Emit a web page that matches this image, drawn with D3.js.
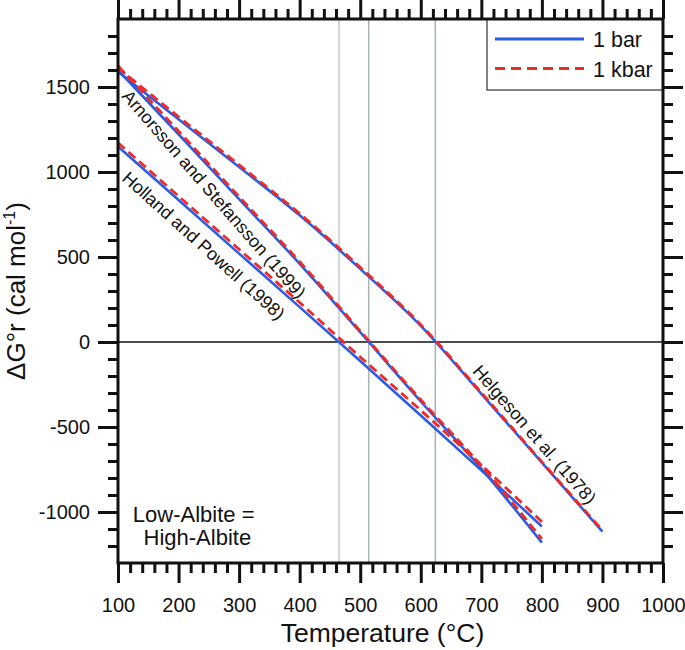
<!DOCTYPE html>
<html>
<head>
<meta charset="utf-8">
<script src="https://cdn.jsdelivr.net/npm/d3@7"></script>
<style>
  html, body { margin: 0; padding: 0; background: #fff; }
  svg { display: block; }
  text { font-family: "Liberation Sans", Arial, sans-serif; fill: #111; }
</style>
</head>
<body>
<svg id="chart" width="685" height="650"></svg>
<script>
// ---------- data ----------
const tempsAS = [100, 200, 300, 400, 500, 600, 700, 800];
const arnorsson1bar  = [1600, 1222, 840, 460, 58, -350, -745, -1180];
const arnorsson1kbar = [1625, 1240, 855, 472, 65, -340, -728, -1158];

const tempsHP = [100, 200, 300, 400, 500, 600, 700, 800];
const holland1bar  = [1150, 835, 520, 205, -112, -432, -755, -1085];
const holland1kbar = [1172, 858, 545, 232, -88, -402, -724, -1058];

const tempsHE = [100, 200, 300, 400, 500, 600, 700, 800, 900];
const helgeson1bar  = [1590, 1310, 1030, 745, 430, 95, -305, -710, -1115];
const helgeson1kbar = [1612, 1325, 1042, 755, 440, 102, -298, -705, -1108];

const zeroCrossings = [465, 514, 624];

const xTicks = [100, 200, 300, 400, 500, 600, 700, 800, 900, 1000];
const yTicks = [-1000, -500, 0, 500, 1000, 1500];
const legendLabels = ["1 bar", "1 kbar"];
const seriesColors = ["#2b5ce6", "#f02a2a"];

// ---------- layout ----------
const svg = d3.select("#chart");
const L = 118, R = 663, T = 19, B = 563;
const x = d3.scaleLinear().domain([100, 1000]).range([L, R]);
const y = d3.scaleLinear().domain([-1300, 1900]).range([B, T]);

const blue = seriesColors[0], red = seriesColors[1];

// vertical reference lines
svg.selectAll("line.ref").data(zeroCrossings).enter().append("line")
  .attr("x1", d => x(d)).attr("x2", d => x(d))
  .attr("y1", T).attr("y2", B)
  .attr("stroke", (d, i) => i === 0 ? "#c4c9c9" : "#a9b1b1")
  .attr("stroke-width", 1.5);

// zero line
svg.append("line")
  .attr("x1", L).attr("x2", R).attr("y1", y(0)).attr("y2", y(0))
  .attr("stroke", "#111").attr("stroke-width", 1.5);

const line = d3.line().x(d => x(d[0])).y(d => y(d[1])).curve(d3.curveMonotoneX);
const zip = (a, b) => a.map((t, i) => [t, b[i]]);

const blueSeries = [zip(tempsAS, arnorsson1bar), zip(tempsHP, holland1bar), zip(tempsHE, helgeson1bar)];
const redSeries  = [zip(tempsAS, arnorsson1kbar), zip(tempsHP, holland1kbar), zip(tempsHE, helgeson1kbar)];

svg.selectAll("path.blue").data(blueSeries).enter().append("path")
  .attr("d", line).attr("fill", "none").attr("stroke", blue).attr("stroke-width", 2.6);
svg.selectAll("path.red").data(redSeries).enter().append("path")
  .attr("d", line).attr("fill", "none").attr("stroke", red).attr("stroke-width", 2.8)
  .attr("stroke-dasharray", "9,5");

// curve labels
const labels = [
  {text: "Arnorsson and Stefansson (1999)", t: 105, g: 1443, rot: 49},
  {text: "Holland and Powell (1998)", t: 105, g: 955, rot: 42},
  {text: "Helgeson et al. (1978)", t: 684, g: -175, rot: 49}
];
svg.selectAll("text.lab").data(labels).enter().append("text")
  .attr("transform", d => `translate(${x(d.t)},${y(d.g)}) rotate(${d.rot})`)
  .attr("font-size", 18)
  .text(d => d.text);

// Low-Albite note
const note = svg.append("text").attr("font-size", 22).attr("text-anchor", "middle");
note.append("tspan").attr("x", x(225)).attr("y", y(-1060)).text("Low-Albite =");
note.append("tspan").attr("x", x(231)).attr("y", y(-1197)).text("High-Albite");

// legend
const lgX = x(1000) - 176, lgY = T, lgW = 176, lgH = 71;
svg.append("rect").attr("x", lgX).attr("y", lgY).attr("width", lgW).attr("height", lgH)
  .attr("fill", "#fff").attr("stroke", "#333").attr("stroke-width", 1.2);
legendLabels.forEach((lab, i) => {
  const ly = lgY + 20 + i * 29.5;
  svg.append("line").attr("x1", lgX + 8).attr("x2", lgX + 97).attr("y1", ly).attr("y2", ly)
    .attr("stroke", seriesColors[i]).attr("stroke-width", 2.8)
    .attr("stroke-dasharray", i === 1 ? "10,6" : null);
  svg.append("text").attr("x", lgX + 106).attr("y", ly + 8).attr("font-size", 21.5).text(lab);
});

// axes
function styleAxis(g) {
  g.select(".domain").remove();
  g.selectAll(".tick line").attr("stroke", "#111").attr("stroke-width", 3);
  g.selectAll(".tick text").attr("font-size", 20).attr("fill", "#111")
    .attr("font-family", "Liberation Sans, Arial, sans-serif");
}
const fmt = d => String(d);
const xMinor = d3.range(100, 1001, 20).filter(v => v % 100 !== 0);
const yMinor = d3.range(-1200, 1900, 100).filter(v => v % 500 !== 0);

svg.append("g").attr("transform", `translate(0,${B})`)
  .call(d3.axisBottom(x).tickValues(xTicks).tickSize(20).tickPadding(15).tickFormat(fmt)).call(styleAxis);
svg.append("g").attr("transform", `translate(0,${B})`)
  .call(d3.axisBottom(x).tickValues(xMinor).tickSize(10).tickFormat("")).call(styleAxis);
svg.append("g").attr("transform", `translate(0,${T})`)
  .call(d3.axisTop(x).tickValues(xTicks).tickSize(20).tickFormat("")).call(styleAxis);
svg.append("g").attr("transform", `translate(0,${T})`)
  .call(d3.axisTop(x).tickValues(xMinor).tickSize(10).tickFormat("")).call(styleAxis);

svg.append("g").attr("transform", `translate(${L},0)`)
  .call(d3.axisLeft(y).tickValues(yTicks).tickSize(20).tickPadding(8).tickFormat(fmt)).call(styleAxis);
svg.append("g").attr("transform", `translate(${L},0)`)
  .call(d3.axisLeft(y).tickValues(yMinor).tickSize(10).tickFormat("")).call(styleAxis);
svg.append("g").attr("transform", `translate(${R},0)`)
  .call(d3.axisRight(y).tickValues(yTicks).tickSize(20).tickFormat("")).call(styleAxis);
svg.append("g").attr("transform", `translate(${R},0)`)
  .call(d3.axisRight(y).tickValues(yMinor).tickSize(10).tickFormat("")).call(styleAxis);

// frame
svg.append("rect").attr("x", L).attr("y", T).attr("width", R - L).attr("height", B - T)
  .attr("fill", "none").attr("stroke", "#111").attr("stroke-width", 3);

// axis titles
svg.append("text").attr("x", (L + R) / 2 - 8).attr("y", 642)
  .attr("text-anchor", "middle").attr("font-size", 26.5).text("Temperature (°C)");

const yt = svg.append("text")
  .attr("transform", `translate(25,${(T + B) / 2}) rotate(-90)`)
  .attr("text-anchor", "middle").attr("font-size", 26);
yt.append("tspan").text("ΔG°r (cal mol");
yt.append("tspan").attr("font-size", 16).attr("dy", -10).text("-1");
yt.append("tspan").attr("dy", 10).text(")");
</script>
</body>
</html>
